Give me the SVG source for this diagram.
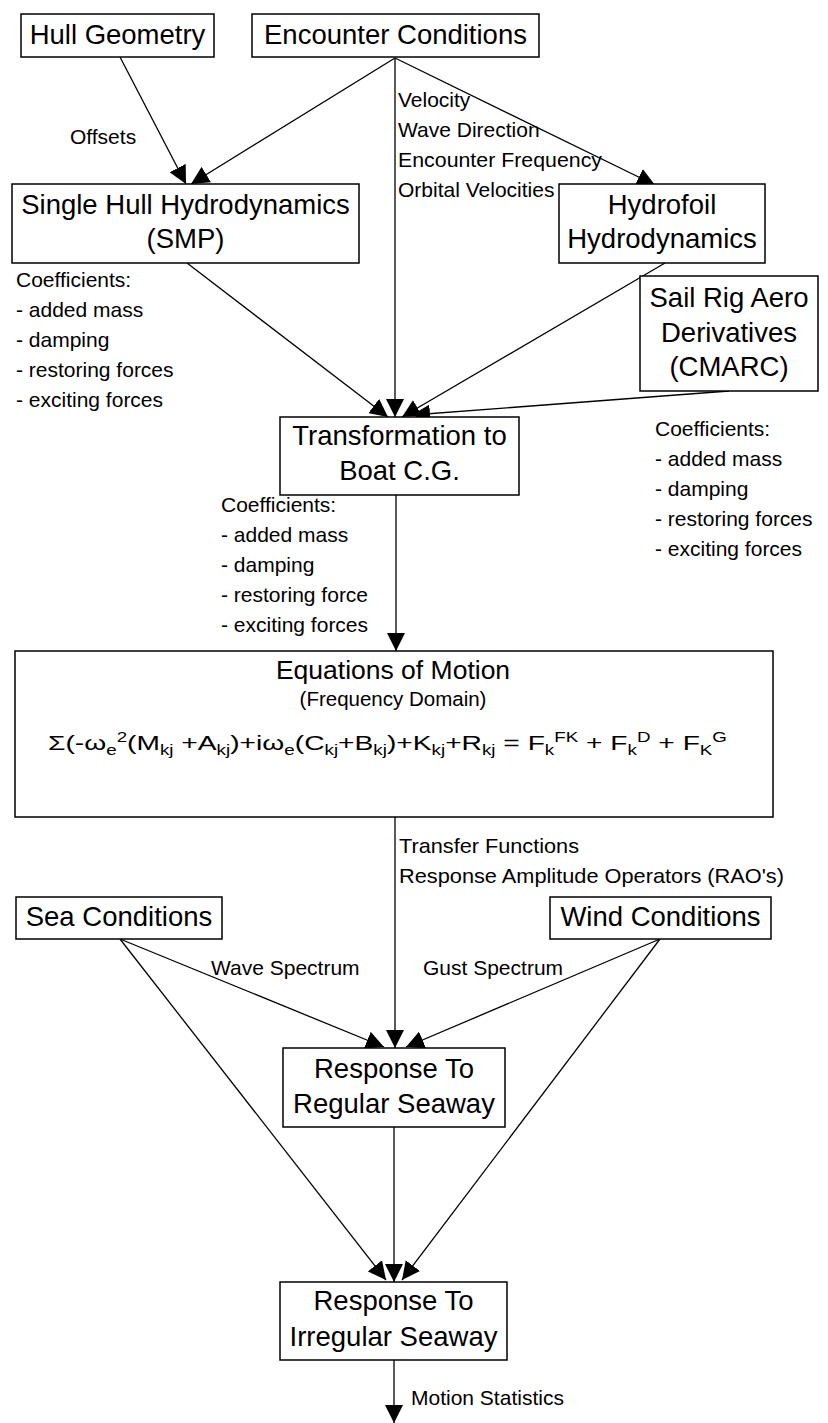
<svg xmlns="http://www.w3.org/2000/svg" width="828" height="1423" viewBox="0 0 828 1423">
<style>
.box{fill:#fff;stroke:#000;stroke-width:1.5}
.bl{font-family:"Liberation Sans",Arial,sans-serif;font-size:27.5px;fill:#000;text-anchor:middle}
.lb{font-family:"Liberation Sans",Arial,sans-serif;font-size:21px;fill:#000}
.eqt{font-family:"Liberation Sans",Arial,sans-serif;fill:#000;text-anchor:middle}
.eq{font-family:"Liberation Sans",Arial,sans-serif;font-size:21px;fill:#000}
.c{stroke:#000;stroke-width:1.3;fill:none;marker-end:url(#ah)}
</style>
<defs>
<marker id="ah" viewBox="0 0 18 18" refX="18" refY="9" markerWidth="18" markerHeight="18" markerUnits="userSpaceOnUse" orient="auto">
<path d="M0,0 L18,9 L0,18 z" fill="#000"/>
</marker>
</defs>
<rect width="828" height="1423" fill="#fff"/>
<g id="connectors">
<path class="c" d="M120,57 L186,184"/>
<path class="c" d="M395,58 L191,184"/>
<path class="c" d="M395,58 L395,417"/>
<path class="c" d="M395,58 L655,185"/>
<path class="c" d="M187,263 L388,417"/>
<path class="c" d="M665,263 L402,417"/>
<path class="c" d="M729,391 L412,415"/>
<path class="c" d="M396,495 L396,651"/>
<path class="c" d="M395,817 L395,1048"/>
<path class="c" d="M120,939 L384,1047"/>
<path class="c" d="M660,939 L406,1047"/>
<path class="c" d="M394,1127 L394,1282"/>
<path class="c" d="M120,939 L386,1280"/>
<path class="c" d="M660,939 L402,1280"/>
<path class="c" d="M394,1360 L394,1423"/>
</g>
<g id="labels">
<text class="lb" x="70" y="144">Offsets</text>
<text class="lb" x="398" y="107">Velocity</text>
<text class="lb" x="398" y="137">Wave Direction</text>
<text class="lb" x="398" y="167" textLength="204" lengthAdjust="spacingAndGlyphs">Encounter Frequency</text>
<text class="lb" x="398" y="197">Orbital Velocities</text>
<text class="lb" x="16" y="287">Coefficients:</text>
<text class="lb" x="16" y="317">- added mass</text>
<text class="lb" x="16" y="347">- damping</text>
<text class="lb" x="16" y="377">- restoring forces</text>
<text class="lb" x="16" y="407">- exciting forces</text>
<text class="lb" x="221" y="512">Coefficients:</text>
<text class="lb" x="221" y="542">- added mass</text>
<text class="lb" x="221" y="572">- damping</text>
<text class="lb" x="221" y="602">- restoring force</text>
<text class="lb" x="221" y="632">- exciting forces</text>
<text class="lb" x="655" y="436">Coefficients:</text>
<text class="lb" x="655" y="466">- added mass</text>
<text class="lb" x="655" y="496">- damping</text>
<text class="lb" x="655" y="526">- restoring forces</text>
<text class="lb" x="655" y="556">- exciting forces</text>
<text class="lb" x="399" y="853" textLength="180" lengthAdjust="spacingAndGlyphs">Transfer Functions</text>
<text class="lb" x="399" y="883" textLength="385" lengthAdjust="spacingAndGlyphs">Response Amplitude Operators (RAO's)</text>
<text class="lb" x="211" y="975">Wave Spectrum</text>
<text class="lb" x="423" y="975">Gust Spectrum</text>
<text class="lb" x="411" y="1405">Motion Statistics</text>
</g>
<g id="hull-geometry">
<rect class="box" x="21" y="14" width="193" height="43"/>
<text class="bl" x="117.5" y="44">Hull Geometry</text>
</g>
<g id="encounter-conditions">
<rect class="box" x="252" y="14" width="287" height="43"/>
<text class="bl" x="395.5" y="44">Encounter Conditions</text>
</g>
<g id="single-hull">
<rect class="box" x="12" y="184" width="347" height="79"/>
<text class="bl" x="185.5" y="214">Single Hull Hydrodynamics</text>
<text class="bl" x="185.5" y="248">(SMP)</text>
</g>
<g id="hydrofoil">
<rect class="box" x="559" y="184" width="206" height="79"/>
<text class="bl" x="662" y="214">Hydrofoil</text>
<text class="bl" x="662" y="248">Hydrodynamics</text>
</g>
<g id="sail-rig">
<rect class="box" x="640" y="276" width="178" height="115"/>
<text class="bl" x="729" y="307">Sail Rig Aero</text>
<text class="bl" x="729" y="342">Derivatives</text>
<text class="bl" x="729" y="376">(CMARC)</text>
</g>
<g id="transformation">
<rect class="box" x="280" y="417" width="239" height="78"/>
<text class="bl" x="399.5" y="445">Transformation to</text>
<text class="bl" x="399.5" y="480">Boat C.G.</text>
</g>
<g id="equations">
<rect class="box" x="15" y="651" width="758" height="166"/>
<text class="eqt" x="393" y="679" font-size="26.5">Equations of Motion</text>
<text class="eqt" x="393" y="706" font-size="20.5">(Frequency Domain)</text>
<text class="eq" x="48" y="750" textLength="679" lengthAdjust="spacingAndGlyphs">Σ(-ω<tspan dy="5" font-size="14">e</tspan><tspan dy="-13" font-size="14">2</tspan><tspan dy="8">(M</tspan><tspan dy="5" font-size="14">kj</tspan><tspan dy="-5"> +A</tspan><tspan dy="5" font-size="14">kj</tspan><tspan dy="-5">)+iω</tspan><tspan dy="5" font-size="14">e</tspan><tspan dy="-5">(C</tspan><tspan dy="5" font-size="14">kj</tspan><tspan dy="-5">+B</tspan><tspan dy="5" font-size="14">kj</tspan><tspan dy="-5">)+K</tspan><tspan dy="5" font-size="14">kj</tspan><tspan dy="-5">+R</tspan><tspan dy="5" font-size="14">kj</tspan><tspan dy="-5"> = F</tspan><tspan dy="5" font-size="14">k</tspan><tspan dy="-13" font-size="14">FK</tspan><tspan dy="8"> + F</tspan><tspan dy="5" font-size="14">k</tspan><tspan dy="-13" font-size="14">D</tspan><tspan dy="8"> + F</tspan><tspan dy="5" font-size="14">K</tspan><tspan dy="-13" font-size="14">G</tspan></text>
</g>
<g id="sea-conditions">
<rect class="box" x="16" y="897" width="206" height="42"/>
<text class="bl" x="119" y="926">Sea Conditions</text>
</g>
<g id="wind-conditions">
<rect class="box" x="550" y="897" width="221" height="42"/>
<text class="bl" x="660.5" y="926">Wind Conditions</text>
</g>
<g id="regular-seaway">
<rect class="box" x="283" y="1048" width="222" height="79"/>
<text class="bl" x="394" y="1078">Response To</text>
<text class="bl" x="394" y="1113">Regular Seaway</text>
</g>
<g id="irregular-seaway">
<rect class="box" x="280" y="1282" width="227" height="78"/>
<text class="bl" x="393.5" y="1310">Response To</text>
<text class="bl" x="393.5" y="1346">Irregular Seaway</text>
</g>
</svg>
